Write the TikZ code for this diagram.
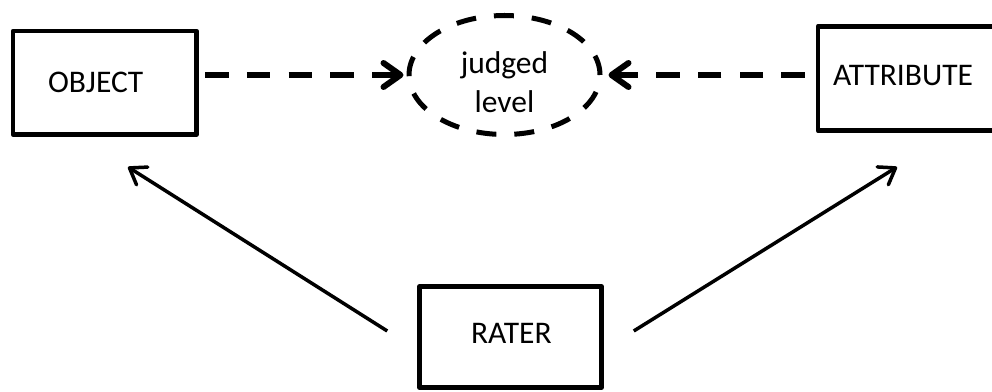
\documentclass[tikz,border=0pt]{standalone}
\usepackage{fontspec}
\setmainfont{Carlito}
\usetikzlibrary{arrows.meta,shapes.geometric,calc}
\begin{document}
\begin{tikzpicture}[x=1pt,y=1pt,
  label font/.style={font=\fontsize{31.5}{38.5}\selectfont},
  box/.style={draw, rectangle, line width=4.5pt, line join=round,
    align=left, inner ysep=0pt, label font},
  cloud/.style={draw, ellipse, line width=5pt, dash pattern=on 20pt off 18pt,
    inner sep=0pt, minimum width=191pt, minimum height=119pt},
  dasharrow/.style={line width=6pt, dash pattern=on 23.3pt off 18.4pt,
    -{Straight Barb[length=17pt,width=24pt,round]}},
  solidarrow/.style={line width=3.5pt,
    -{Straight Barb[length=15pt,width=21pt,round]}}]
  \useasboundingbox (0,0) rectangle (992,391);
  \clip (0,0) rectangle (992,391);

  % the three entities
  \node[box, text width=113.5pt, inner xsep=35pt, minimum height=103.5pt]
    (obj) at (104.75,308.25) {OBJECT};
  \node[box, text width=157pt, inner xsep=15pt, minimum height=104.4pt, text depth=7pt]
    (attr) at (911.5,312.5) {ATTRIBUTE};
  \node[box, text width=79pt, inner xsep=51.5pt, minimum height=100.8pt, text depth=7pt]
    (rater) at (510.5,54) {RATER};

  % the judged level between object and attribute
  \node[cloud] (ell) at (504.5,316) {};
  \node[label font, align=center, inner sep=0pt] (elltext) at ($(ell.center)+(0,-7)$) {judged\\level};

  % dashed links into the judged level
  \draw[dasharrow, shorten <=6.5pt, shorten >=3pt] (obj.east |- ell.west) -- (ell.west);
  \draw[dasharrow, shorten <=11pt, shorten >=6pt] (attr.west |- ell.east) -- (ell.east);

  % the rater acts on both
  \coordinate (rl) at ($(rater.west)+(-30,6)$);
  \coordinate (rr) at ($(rater.east)+(30,6)$);
  \coordinate (objtip) at (128,224);
  \coordinate (attrtip) at (897,224);
  \draw[solidarrow] (rl) -- (objtip);
  \draw[solidarrow] (rr) -- (attrtip);
\end{tikzpicture}
\end{document}
